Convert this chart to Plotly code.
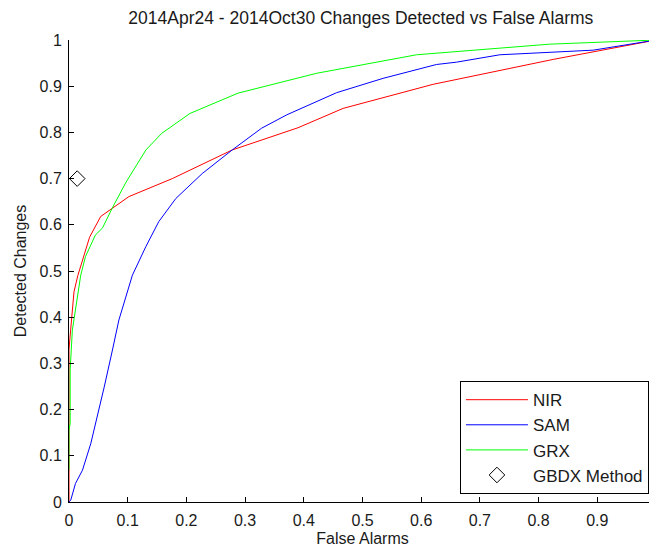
import plotly.graph_objects as go

nir_x = [0, 0, 0, 0.0028, 0.0085, 0.015, 0.023, 0.035, 0.054, 0.102, 0.176, 0.278, 0.39, 0.467, 0.62, 0.825, 1]
nir_y = [0, 0.07, 0.33, 0.372, 0.455, 0.49, 0.524, 0.573, 0.618, 0.661, 0.70, 0.762, 0.81, 0.852, 0.904, 0.958, 1]

sam_x = [0, 0.003, 0.011, 0.023, 0.037, 0.048, 0.060, 0.074, 0.085, 0.108, 0.131, 0.153, 0.182, 0.227, 0.278,
         0.328, 0.371, 0.456, 0.535, 0.626, 0.660, 0.734, 0.893, 1]
sam_y = [0, 0.004, 0.04, 0.069, 0.126, 0.184, 0.249, 0.329, 0.394, 0.491, 0.553, 0.607, 0.657, 0.711, 0.762,
         0.809, 0.838, 0.886, 0.917, 0.947, 0.952, 0.968, 0.978, 1]

grx_x = [0, 0, 0.002, 0.002, 0.0057, 0.0085, 0.0125, 0.020, 0.028, 0.045, 0.057, 0.074, 0.097, 0.131, 0.158,
         0.206, 0.288, 0.422, 0.592, 0.819, 1]
grx_y = [0.07, 0.156, 0.17, 0.286, 0.372, 0.394, 0.429, 0.491, 0.531, 0.578, 0.593, 0.637, 0.692, 0.762, 0.798,
         0.841, 0.885, 0.928, 0.968, 0.991, 1]

gbdx_x = [0.014]
gbdx_y = [0.70]

x_ticks = [0, 0.1, 0.2, 0.3, 0.4, 0.5, 0.6, 0.7, 0.8, 0.9, 1]
y_ticks = [0, 0.1, 0.2, 0.3, 0.4, 0.5, 0.6, 0.7, 0.8, 0.9, 1]

fig = go.Figure()
fig.add_trace(go.Scatter(x=nir_x, y=nir_y, mode="lines", name="NIR",
                         line=dict(color="#ff0000", width=1)))
fig.add_trace(go.Scatter(x=sam_x, y=sam_y, mode="lines", name="SAM",
                         line=dict(color="#0000ff", width=1)))
fig.add_trace(go.Scatter(x=grx_x, y=grx_y, mode="lines", name="GRX",
                         line=dict(color="#00ff00", width=1)))
fig.add_trace(go.Scatter(x=gbdx_x, y=gbdx_y, mode="markers", name="GBDX Method",
                         marker=dict(symbol="diamond-open", color="black", size=12,
                                     line=dict(width=1, color="black"))))

font = "Liberation Sans, Arial, sans-serif"
txt = "#1a1a1a"
fig.update_layout(
    width=657, height=551,
    margin=dict(l=61, r=9, t=32, b=57),
    paper_bgcolor="white", plot_bgcolor="white",
    font=dict(family=font, size=16, color=txt),
    title=dict(text="2014Apr24 - 2014Oct30 Changes Detected vs False Alarms",
               x=0.537, xanchor="center", y=0.982, yanchor="middle",
               font=dict(size=17.5, color=txt)),
    showlegend=True,
    legend=dict(x=0.988, xanchor="right", y=0.017, yanchor="bottom",
                bordercolor="black", borderwidth=1, bgcolor="white",
                itemwidth=62,
                font=dict(size=17, color=txt), tracegroupgap=0),
    xaxis=dict(range=[0, 1], tickvals=x_ticks, ticks="inside", ticklen=5,
               tickcolor="black", showline=True, linecolor="black", linewidth=1,
               showgrid=False, zeroline=False, automargin=False,
               ticklabelstandoff=4,
               title=dict(text="False Alarms", standoff=4, font=dict(size=16)),
               tickfont=dict(size=16)),
    yaxis=dict(range=[0, 1], tickvals=y_ticks, ticks="inside", ticklen=5,
               tickcolor="black", showline=True, linecolor="black", linewidth=1,
               showgrid=False, zeroline=False, automargin=False,
               ticklabelstandoff=3,
               title=dict(text="Detected Changes", standoff=8, font=dict(size=16)),
               tickfont=dict(size=16)),
)

fig.write_html("out.html")
